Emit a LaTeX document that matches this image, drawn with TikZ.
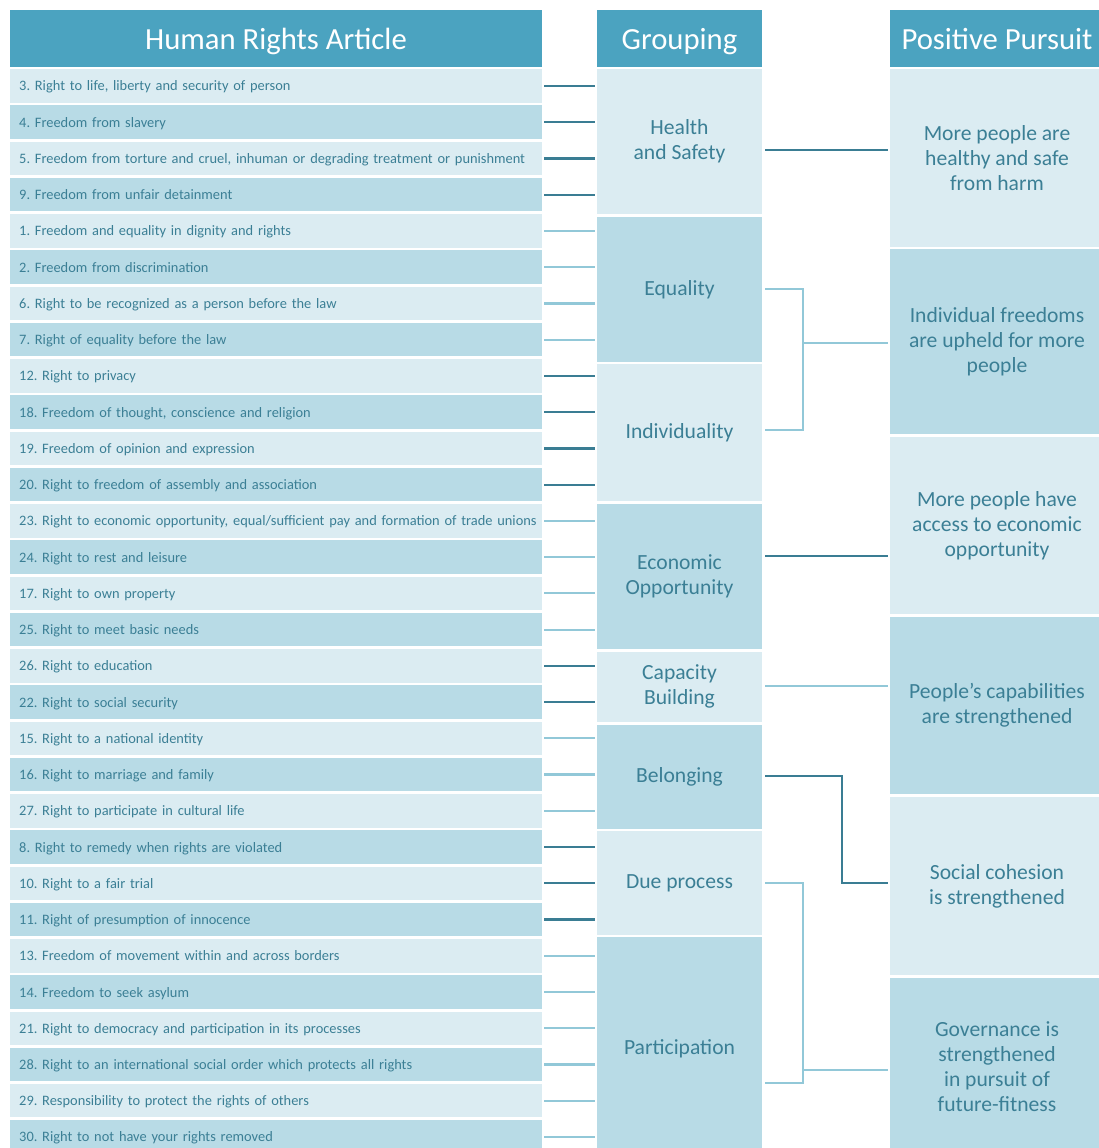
\documentclass[tikz,border=0pt]{standalone}
\usepackage{fontspec}
\setmainfont{Carlito}
\frenchspacing
\definecolor{hdr}{HTML}{4BA3C0}
\definecolor{lite}{HTML}{DBECF2}
\definecolor{dark}{HTML}{B8DBE6}
\definecolor{txt}{HTML}{3B7F95}
\definecolor{dkln}{HTML}{3A7D93}
\definecolor{ltln}{HTML}{92C8D8}
\begin{document}
\begin{tikzpicture}[x=1pt,y=-1pt,
  hdrbox/.style={fill=hdr,text=white,inner sep=0pt,text depth=0pt,font=\fontsize{30.7}{32}\selectfont},
  rowbox/.style={anchor=west,minimum height=33.5pt,text width=514pt,inner xsep=9pt,inner ysep=0pt,text depth=0pt,text=txt,font=\fontsize{14.4}{16}\selectfont,align=left},
  grpbox/.style={text=txt,inner sep=0pt,font=\fontsize{21.6}{25}\selectfont,align=center,minimum width=165pt},
  posbox/.style={text=txt,inner sep=0pt,font=\fontsize{21.6}{25}\selectfont,align=center,minimum width=214pt},
  conn/.style={line width=2.2pt}]
\useasboundingbox (0,0) rectangle (1099,1148);
\clip (0,0) rectangle (1099,1148);
% headers
\node[hdrbox,minimum width=532pt,minimum height=57pt] (h1) at (276,38.5) {Human Rights Article};
\node[hdrbox,minimum width=165pt,minimum height=57pt] (h2) at (679.5,38.5) {Grouping};
\node[hdrbox,minimum width=214pt,minimum height=57pt] (h3) at (997,38.5) {Positive Pursuit};
% groups
\foreach \n/\ta/\tb/\f/\t in {
  1/69/214/lite/{Health\\and Safety},
  2/217/361.5/dark/{Equality},
  3/364/501/lite/{Individuality},
  4/503.5/649/dark/{Economic\\Opportunity},
  5/651.5/722/lite/{Capacity\\Building},
  6/724.5/829/dark/{Belonging},
  7/831/935/lite/{Due process},
  8/937/1160/dark/{Participation}}{
  \pgfmathsetmacro\hh{\tb-\ta}
  \pgfmathsetmacro\cc{(\ta+\tb)/2}
  \node[grpbox,fill=\f,minimum height=\hh pt] (g\n) at (679.5,\cc) {\t};
}
% positive pursuits
\foreach \n/\ta/\tb/\f/\t in {
  1/69/246.7/lite/{More people are\\healthy and safe\\from harm},
  2/249.3/434.3/dark/{Individual freedoms\\are upheld for more\\people},
  3/437/614/lite/{More people have\\access to economic\\opportunity},
  4/617/794/dark/{People’s capabilities\\are strengthened},
  5/797/975/lite/{Social cohesion\\is strengthened},
  6/978/1155/dark/{Governance is\\strengthened\\in pursuit of\\future-fitness}}{
  \pgfmathsetmacro\hh{\tb-\ta}
  \pgfmathsetmacro\cc{(\ta+\tb)/2}
  \node[posbox,fill=\f,minimum height=\hh pt] (p\n) at (997,\cc) {\t};
}
% rows
\foreach \g/\t [count=\i] in {
  1/{3. Right to life, liberty and security of person},
  1/{4. Freedom from slavery},
  1/{5. Freedom from torture and cruel, inhuman or degrading treatment or punishment},
  1/{9. Freedom from unfair detainment},
  2/{1. Freedom and equality in dignity and rights},
  2/{2. Freedom from discrimination},
  2/{6. Right to be recognized as a person before the law},
  2/{7. Right of equality before the law},
  3/{12. Right to privacy},
  3/{18. Freedom of thought, conscience and religion},
  3/{19. Freedom of opinion and expression},
  3/{20. Right to freedom of assembly and association},
  4/{23. Right to economic opportunity, equal/sufficient pay and formation of trade unions},
  4/{24. Right to rest and leisure},
  4/{17. Right to own property},
  4/{25. Right to meet basic needs},
  5/{26. Right to education},
  5/{22. Right to social security},
  6/{15. Right to a national identity},
  6/{16. Right to marriage and family},
  6/{27. Right to participate in cultural life},
  7/{8. Right to remedy when rights are violated},
  7/{10. Right to a fair trial},
  7/{11. Right of presumption of innocence},
  8/{13. Freedom of movement within and across borders},
  8/{14. Freedom to seek asylum},
  8/{21. Right to democracy and participation in its processes},
  8/{28. Right to an international social order which protects all rights},
  8/{29. Responsibility to protect the rights of others},
  8/{30. Right to not have your rights removed}}{
  \pgfmathsetmacro\cy{86+36.24*(\i-1)}
  \ifodd\i\def\fc{lite}\else\def\fc{dark}\fi
  \ifodd\g\def\lc{dkln}\else\def\lc{ltln}\fi
  \node[rowbox,fill=\fc] (r\i) at (10,\cy) {\makebox[0pt][l]{\t}};
  \draw[conn,draw=\lc] ([xshift=2pt]r\i.east) -- ([xshift=-2pt]g\g.west |- r\i.east);
}
% right connectors
\coordinate (j2) at (803,343);
\coordinate (j5) at (842,883);
\coordinate (j6) at (803,1070);
\draw[conn,draw=dkln] ([xshift=3pt]g1.east |- 0,150) -- ([xshift=-2pt]p1.west |- 0,150);
\draw[conn,draw=ltln] ([xshift=3pt]g2.east |- 0,289) -| (j2) |- ([xshift=3pt]g3.east |- 0,430);
\draw[conn,draw=ltln] (j2) -- ([xshift=-2pt]p2.west |- j2);
\draw[conn,draw=dkln] ([xshift=3pt]g4.east |- 0,556) -- ([xshift=-2pt]p3.west |- 0,556);
\draw[conn,draw=ltln] ([xshift=3pt]g5.east |- 0,686) -- ([xshift=-2pt]p4.west |- 0,686);
\draw[conn,draw=dkln] ([xshift=3pt]g6.east |- 0,776) -| (j5) -- ([xshift=-2pt]p5.west |- j5);
\draw[conn,draw=ltln] ([xshift=3pt]g7.east |- 0,883) -| (j6) |- ([xshift=3pt]g8.east |- 0,1083);
\draw[conn,draw=ltln] (j6) -- ([xshift=-2pt]p6.west |- j6);
\end{tikzpicture}
\end{document}
